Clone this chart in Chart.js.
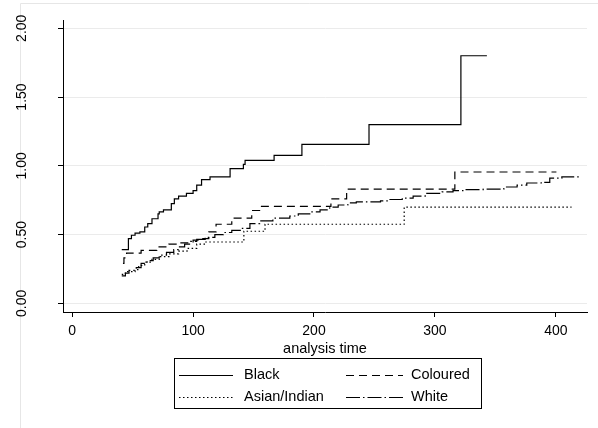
<!DOCTYPE html>
<html><head><meta charset="utf-8">
<script src="https://cdn.jsdelivr.net/npm/chart.js@4.4.1/dist/chart.umd.min.js"></script>
<style>html,body{margin:0;padding:0;background:#fff;}#wrap{position:relative;width:598px;height:428px;}</style>
</head><body><div id="wrap"><canvas id="c" width="598" height="428"></canvas></div>
<script>
const seriesNames = ['Black', 'Coloured', 'Asian/Indian', 'White'];
const blackTime  = [41, 46.5, 49, 52, 56, 60, 62.5, 66, 71, 72, 75.5, 82, 84.5, 88, 94.5, 100, 103, 107, 114, 130.6, 141.6, 143, 167, 190, 245.5, 321.5, 343];
const blackValue = [0.39, 0.47, 0.495, 0.51, 0.52, 0.555, 0.58, 0.615, 0.65, 0.665, 0.68, 0.725, 0.76, 0.78, 0.80, 0.82, 0.86, 0.90, 0.92, 0.98, 1.01, 1.04, 1.076, 1.156, 1.30, 1.80, 1.80];
const colouredTime  = [42, 42.8, 45, 57, 70, 80, 88, 100, 106, 113, 119, 132, 148.5, 155, 214, 227, 316.5, 400.5];
const colouredValue = [0.29, 0.33, 0.365, 0.385, 0.41, 0.43, 0.44, 0.46, 0.47, 0.52, 0.575, 0.62, 0.675, 0.705, 0.76, 0.83, 0.955, 0.955];
const asianTime  = [41, 44, 52, 55, 60, 66, 72, 80, 88, 95, 103, 110, 142, 159.5, 274.6, 413];
const asianValue = [0.21, 0.23, 0.245, 0.275, 0.30, 0.32, 0.34, 0.36, 0.38, 0.40, 0.43, 0.446, 0.524, 0.575, 0.70, 0.70];
const whiteTime  = [41, 44, 47, 53, 57, 62, 67, 72, 78, 84, 88, 93, 98, 103, 110, 118, 125, 132, 140, 147, 155, 166, 180, 187, 197, 205, 213, 220, 228, 235, 255, 262, 273, 282, 292, 306, 315, 325, 340, 357, 368, 376, 388, 395, 405, 420];
const whiteValue = [0.20, 0.22, 0.24, 0.26, 0.29, 0.31, 0.33, 0.35, 0.37, 0.39, 0.41, 0.43, 0.45, 0.465, 0.48, 0.50, 0.515, 0.53, 0.545, 0.58, 0.60, 0.62, 0.635, 0.65, 0.665, 0.68, 0.70, 0.715, 0.73, 0.737, 0.745, 0.755, 0.765, 0.78, 0.80, 0.81, 0.82, 0.827, 0.83, 0.846, 0.86, 0.875, 0.88, 0.91, 0.92, 0.92];
const xTicks = [0, 100, 200, 300, 400];
const yTicks = [0, 0.5, 1, 1.5, 2];
const xAxisTitle = 'analysis time';

const FONT = '"Liberation Sans", Arial, sans-serif';
const dashes = [[], [8, 5], [1.5, 2.5], [14, 3, 1.5, 3]];
const times = [blackTime, colouredTime, asianTime, whiteTime];
const values = [blackValue, colouredValue, asianValue, whiteValue];

const datasets = seriesNames.map((name, i) => ({
  label: name,
  data: times[i].map((t, j) => ({x: t, y: values[i][j]})),
  stepped: 'before',
  borderColor: '#000',
  borderWidth: 1.2,
  borderDash: dashes[i],
  pointRadius: 0,
  fill: false,
  tension: 0
}));

const framePlugin = {
  id: 'frame',
  beforeDraw(chart) {
    const ctx = chart.ctx;
    ctx.save();
    ctx.fillStyle = '#fff';
    ctx.fillRect(0, 0, chart.width, chart.height);
    ctx.strokeStyle = '#e6e6e6';
    ctx.lineWidth = 1;
    ctx.beginPath();
    ctx.moveTo(20.5, 430); ctx.lineTo(20.5, 3.5); ctx.lineTo(600, 3.5);
    ctx.stroke();
    ctx.restore();
  }
};

const yLabelPlugin = {
  id: 'yLabels',
  afterDraw(chart) {
    const ctx = chart.ctx, y = chart.scales.y;
    ctx.save();
    ctx.font = '14px ' + FONT;
    ctx.fillStyle = '#000';
    ctx.textAlign = 'center';
    ctx.textBaseline = 'middle';
    yTicks.forEach(v => {
      ctx.save();
      ctx.translate(22, y.getPixelForValue(v));
      ctx.rotate(-Math.PI / 2);
      ctx.fillText(v.toFixed(2), 0, 0);
      ctx.restore();
    });
    ctx.restore();
  }
};

const legendPlugin = {
  id: 'boxLegend',
  afterDraw(chart) {
    const ctx = chart.ctx;
    ctx.save();
    ctx.strokeStyle = '#000';
    ctx.lineWidth = 1;
    ctx.setLineDash([]);
    ctx.strokeRect(174.5, 358.5, 307, 50);
    const cols = [[179, 233, 244], [346, 403, 411]];
    const rows = [375, 397];
    ctx.font = '14.5px ' + FONT;
    ctx.textBaseline = 'middle';
    ctx.fillStyle = '#000';
    seriesNames.forEach((name, i) => {
      const c = cols[i % 2], r = rows[Math.floor(i / 2)];
      ctx.beginPath();
      ctx.setLineDash(dashes[i]);
      ctx.strokeStyle = '#000';
      ctx.lineWidth = 1.1;
      ctx.moveTo(c[0], r + 0.5); ctx.lineTo(c[1], r + 0.5);
      ctx.stroke();
      ctx.setLineDash([]);
      ctx.fillText(name, c[2], r);
    });
    ctx.restore();
  }
};

new Chart(document.getElementById('c'), {
  type: 'line',
  data: {datasets},
  options: {
    responsive: false,
    animation: false,
    devicePixelRatio: 1,
    layout: {padding: {left: 0, right: 11, top: 20, bottom: 0}},
    plugins: {legend: {display: false}, tooltip: {enabled: false}},
    scales: {
      x: {
        type: 'linear',
        position: 'bottom',
        min: -7.6, max: 425.8,
        afterBuildTicks: a => { a.ticks = xTicks.map(v => ({value: v})); },
        afterFit: a => { a.height = 116; },
        grid: {drawOnChartArea: false, drawTicks: true, tickLength: 5, tickColor: '#000', tickWidth: 1},
        border: {display: true, color: '#000', width: 1},
        ticks: {autoSkip: false, maxRotation: 0, padding: 6, color: '#000', font: {family: FONT, size: 14}, callback: v => String(v)},
        title: {display: true, text: xAxisTitle, color: '#000', font: {family: FONT, size: 14.5}, padding: {top: 0, bottom: 70}}
      },
      y: {
        type: 'linear',
        position: 'left',
        min: -0.063, max: 2.06,
        afterBuildTicks: a => { a.ticks = yTicks.map(v => ({value: v})); },
        afterFit: a => { a.width = 63; },
        grid: {color: '#ebebeb', lineWidth: 1, drawTicks: true, tickLength: 5, tickColor: '#000', tickWidth: 1},
        border: {display: true, color: '#000', width: 1},
        ticks: {display: false}
      }
    }
  },
  plugins: [framePlugin, yLabelPlugin, legendPlugin]
});
</script></body></html>
